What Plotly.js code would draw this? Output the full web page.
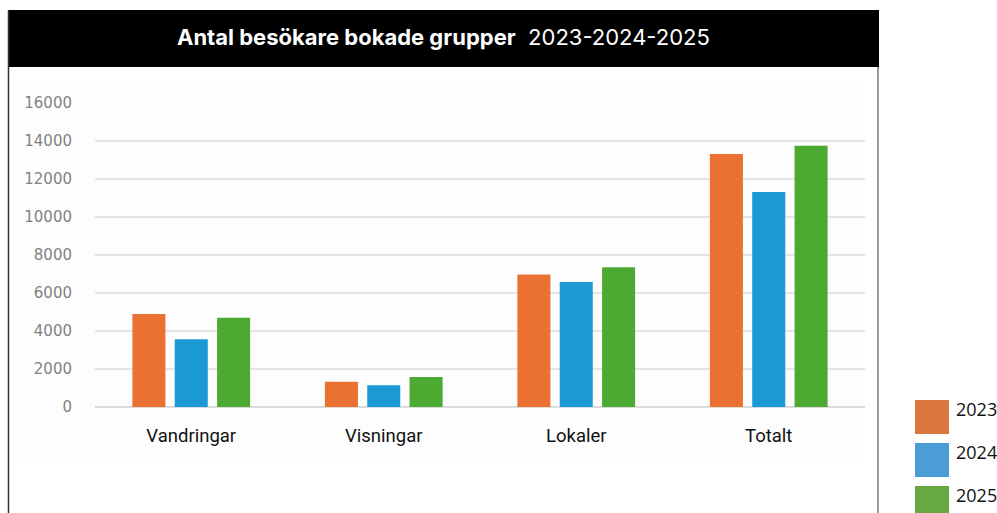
<!DOCTYPE html>
<html>
<head>
<meta charset="utf-8">
<script src="https://cdn.plot.ly/plotly-3.0.1.min.js"></script>
<style>html,body{margin:0;padding:0;background:#fff;}#chart{width:997px;height:513px;}</style>
</head>
<body>
<div id="chart"></div>
<script>
// ---- data ----
const categories = ["Vandringar", "Visningar", "Lokaler", "Totalt"];
const years = ["2023", "2024", "2025"];
const values2023 = [4900, 1330, 6980, 13320];
const values2024 = [3560, 1140, 6580, 11320];
const values2025 = [4700, 1580, 7350, 13750];
const yTicks = [0, 2000, 4000, 6000, 8000, 10000, 12000, 14000, 16000];
const titleBold = "Antal besökare bokade grupper";
const titleYears = "2023-2024-2025";

// ---- styling ----
const barColors = ["#eb7133", "#1b9ad6", "#4caa32"];
const legendColors = ["#d9773f", "#4a9ed5", "#67a843"];
const seriesValues = [values2023, values2024, values2025];

const W = 997, H = 513;
const L = 95, R = 865, T = 103, B = 407;
const px2x = p => (p - L) / (R - L);
const px2y = p => (B - p) / (B - T);

const traces = years.map((yr, i) => ({
  type: "bar",
  name: yr,
  x: categories,
  y: seriesValues[i],
  marker: { color: barColors[i], line: { width: 0 } },
  hoverinfo: "skip"
}));

const shapes = [
  // faint panel behind chart
  { type: "rect", xref: "paper", yref: "paper", layer: "below",
    x0: px2x(12), x1: px2x(864), y0: px2y(458), y1: px2y(80),
    fillcolor: "#fdfdfd", line: { width: 0 } },
  // header band
  { type: "rect", xref: "paper", yref: "paper", layer: "above",
    x0: px2x(8), x1: px2x(879), y0: px2y(67), y1: px2y(10),
    fillcolor: "#000000", line: { width: 0 } },
  // left border
  { type: "line", xref: "paper", yref: "paper",
    x0: px2x(8.5), x1: px2x(8.5), y0: px2y(10), y1: px2y(513),
    line: { color: "#333333", width: 1.5 } },
  // right border
  { type: "line", xref: "paper", yref: "paper",
    x0: px2x(878), x1: px2x(878), y0: px2y(67), y1: px2y(513),
    line: { color: "#777777", width: 1.5 } }
];

const annotations = [
  { xref: "paper", yref: "paper", x: px2x(443), y: px2y(37),
    xanchor: "center", yanchor: "middle", showarrow: false,
    text: "<b>" + titleBold + "</b>  " + titleYears,
    font: { family: "Inter, 'Open Sans', sans-serif", size: 22, color: "#ffffff" } }
];

// custom legend (large squares)
years.forEach((yr, i) => {
  const top = 400 + i * 43;
  shapes.push({ type: "rect", xref: "paper", yref: "paper",
    x0: px2x(915), x1: px2x(949), y0: px2y(top + 34), y1: px2y(top),
    fillcolor: legendColors[i], line: { width: 0 } });
  annotations.push({ xref: "paper", yref: "paper", x: px2x(954), y: px2y(top + 9),
    xanchor: "left", yanchor: "middle", showarrow: false, text: yr,
    font: { family: "'Open Sans', sans-serif", size: 18, color: "#111111" } });
});

const layout = {
  width: W, height: H,
  margin: { l: L, r: W - R, t: T, b: H - B, pad: 0 },
  paper_bgcolor: "#ffffff",
  plot_bgcolor: "rgba(0,0,0,0)",
  barmode: "group",
  bargap: 0.34,
  bargroupgap: 0.22,
  showlegend: false,
  xaxis: {
    type: "category",
    range: [-0.5, 3.5],
    showgrid: false, zeroline: false, showline: false,
    ticks: "",
    ticklabelstandoff: 15,
    tickfont: { family: "Roboto, 'Open Sans', sans-serif", size: 18.5, color: "#111111" }
  },
  yaxis: {
    range: [0, 16000],
    tickmode: "array",
    tickvals: yTicks,
    ticktext: yTicks.map(String),
    showgrid: true, gridcolor: "#e4e4e4", gridwidth: 1.5,
    zeroline: true, zerolinecolor: "#dcdcdc", zerolinewidth: 1.5,
    showline: false, ticks: "",
    ticklabelstandoff: 22,
    tickfont: { family: "'DejaVu Sans', sans-serif", size: 15, color: "#828282" }
  },
  shapes: shapes,
  annotations: annotations
};

Plotly.newPlot("chart", traces, layout, { staticPlot: true, displayModeBar: false });
</script>
</body>
</html>
